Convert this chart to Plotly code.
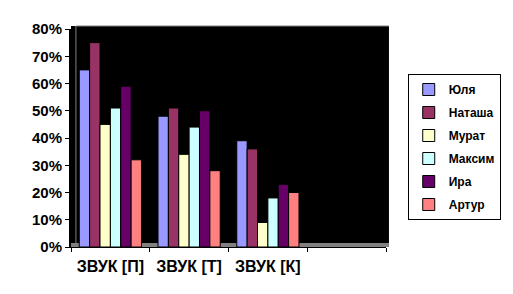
import plotly.graph_objects as go

categories = ["ЗВУК [П]", "ЗВУК [Т]", "ЗВУК [К]", " "]
names = ["Юля", "Наташа", "Мурат", "Максим", "Ира", "Артур"]
yulia = [0.65, 0.48, 0.39]
natasha = [0.75, 0.51, 0.36]
murat = [0.45, 0.34, 0.09]
maksim = [0.51, 0.44, 0.18]
ira = [0.59, 0.50, 0.23]
artur = [0.32, 0.28, 0.20]
colors = ["#9999FF", "#993366", "#FFFFCC", "#CCFFFF", "#660066", "#FF8080"]

series = [yulia, natasha, murat, maksim, ira, artur]

fig = go.Figure()
for i, (n, vals) in enumerate(zip(names, series)):
    fig.add_trace(go.Bar(
        x=categories[:3], y=vals, name=n, legendgroup=n,
        marker=dict(color=colors[i], line=dict(color="black", width=1)),
    ))

W, H = 513, 294
L, R, T, B = 71, 123, 29, 47
pw, ph = W - L - R, H - T - B

shapes = [
    dict(type="rect", xref="paper", yref="paper", x0=0, x1=1 + 3 / pw, y0=0, y1=1 + 3 / ph,
         fillcolor="black", line=dict(width=0), layer="below"),
    dict(type="rect", xref="paper", yref="paper", x0=0, x1=1 + 3 / pw, y0=0, y1=4 / ph,
         fillcolor="#808080", line=dict(width=0), layer="below"),
    dict(type="line", xref="paper", yref="paper", x0=5 / pw, x1=1 + 3 / pw, y0=1 + 3 / ph, y1=1 + 3 / ph,
         line=dict(color="#808080", width=1)),
    dict(type="line", xref="paper", yref="paper", x0=5 / pw, x1=5 / pw, y0=3 / ph, y1=1 + 3 / ph,
         line=dict(color="#808080", width=1)),
]

fig.update_layout(
    width=W, height=H,
    margin=dict(l=L, r=R, t=T, b=B, pad=0),
    paper_bgcolor="white", plot_bgcolor="black",
    barmode="group", bargap=0.21, bargroupgap=0,
    font=dict(family="Liberation Sans, Arial, sans-serif", color="black"),
    shapes=shapes,
    showlegend=True,
    legend=dict(
        x=(412 - L) / pw, xanchor="left", y=(H - B - 74) / ph, yanchor="top",
        bgcolor="white", bordercolor="black", borderwidth=1,
        font=dict(size=12, family="Liberation Sans, Arial, sans-serif", weight="bold", color="black"),
        tracegroupgap=4, itemwidth=30,
    ),
    xaxis=dict(
        type="category", categoryorder="array", categoryarray=categories,
        range=[-0.5, 3.5], showgrid=False, zeroline=False,
        showline=True, linecolor="black", linewidth=1,
        ticks="outside", ticklen=4, tickcolor="black", tickson="boundaries",
        ticklabelstandoff=5,
        tickfont=dict(size=16, weight="bold", color="black"),
    ),
    yaxis=dict(
        range=[0, 0.8], dtick=0.1, tickformat=".0%", showgrid=False, zeroline=False,
        showline=True, linecolor="black", linewidth=2,
        ticks="outside", ticklen=4, tickcolor="black",
        tickfont=dict(size=15, weight="bold", color="black"),
    ),
)

fig.write_html("out.html")
